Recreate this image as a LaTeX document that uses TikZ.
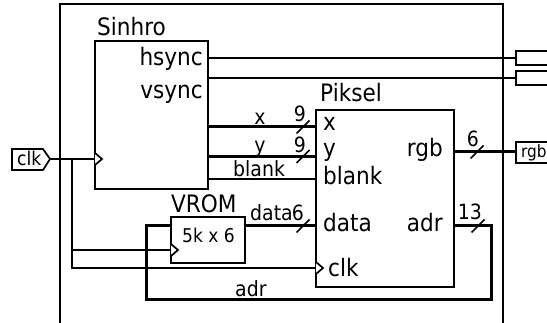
\documentclass[tikz,border=0pt]{standalone}
\usepackage{fontspec}
\setmainfont[FakeStretch=0.9]{DejaVu Sans}
\usepackage{tikz}
\tikzset{
  block/.style={draw,line width=1.7pt,minimum width=0pt,inner sep=0pt,outer sep=0pt},
  thinwire/.style={line width=1.7pt},
  buswire/.style={line width=3pt},
  big/.style={inner sep=0pt,font=\fontsize{24}{24}\selectfont},
  mid/.style={inner sep=0pt,font=\fontsize{21}{22}\selectfont},
  small/.style={inner sep=0pt,font=\fontsize{19}{20}\selectfont},
}
\begin{document}
\begin{tikzpicture}[x=1pt,y=-1pt]
  % Configurable parameters
  \def\slashx{6.5}
  \def\slashy{6.5}
  %
  \useasboundingbox (0,0) rectangle (547,323);
  %
  % Frame
  \draw[thinwire] (60,323) -- (60,4) -- (503,4) -- (503,323);
  %
  % Blocks
  \node[block,minimum width=113pt,minimum height=148pt] (sinhro) at (151.5,115) {};
  \node[block,minimum width=138pt,minimum height=177pt] (piksel) at (385,198.5) {};
  \node[block,minimum width=74pt,minimum height=46pt] (vrom) at (208,240) {};
  %
  % Pins
  \coordinate (hsync) at (208,58);
  \coordinate (vsync) at (208,78);
  \coordinate (xout) at (208,127);
  \coordinate (yout) at (208,156.5);
  \coordinate (blankout) at (208,179);
  \coordinate (xin) at (316,127);
  \coordinate (yin) at (316,156.5);
  \coordinate (blankin) at (316,179);
  \coordinate (datain) at (316,226);
  \coordinate (dataout) at (245,226);
  \coordinate (clkin) at (316,268);
  \coordinate (romclk) at (171,250);
  \coordinate (romadr) at (171,226);
  \coordinate (rgbout) at (454,152);
  \coordinate (adrout) at (454,226);
  \coordinate (syncclk) at (95,159);
  \coordinate (clkport) at (50,159);
  \coordinate (clkbranch) at (72,159);
  \coordinate (hport) at (516,58);
  \coordinate (vport) at (516,78);
  \coordinate (rgbport) at (516,152);
  %
  % Ports
  \draw[thinwire] (547,51) -- (516,51) -- (516,65) -- (547,65);
  \draw[thinwire] (547,71) -- (516,71) -- (516,85) -- (547,85);
  \draw[thinwire] (547,142) -- (516,142) -- (516,163) -- (547,163);
  \draw[thinwire] (12,149) -- (43,149) -- (50,159) -- (43,170) -- (12,170) -- cycle;
  %
  % Thin wires
  \draw[thinwire] (hsync) -- (hport);
  \draw[thinwire] (vsync) -- (vport);
  \draw[thinwire] (blankout) -- (blankin);
  \draw[thinwire] (clkport) -- (syncclk);
  \draw[thinwire] (clkbranch) |- (romclk);
  \draw[thinwire] (clkbranch) |- (clkin);
  %
  % Buses
  \draw[buswire] (xout) -- (xin);
  \draw[buswire] (yout) -- (yin);
  \draw[buswire] (dataout) -- (datain);
  \draw[buswire] (rgbout) -- (rgbport);
  \draw[buswire] (adrout) -- (491,226) -- (491,300) -- (146,300) -- (146,226) -- (romadr);
  %
  % Bus slashes
  \foreach \px/\py in {303/127,303/156.5,477/152,303/226,478/226}
    \draw[thinwire] (\px-\slashx,\py+\slashy) -- (\px+\slashx,\py-\slashy);
  %
  % Clock marks
  \foreach \c in {syncclk,romclk,clkin}
    \draw[thinwire,fill=white] (\c) ++(0,-6) -- ++(7,6) -- ++(-7,6);
  %
  % Labels
  \node[big,anchor=base west] (sinhrolabel) at (97,36) {Sinhro};
  \node[big,anchor=base east] (hsynclabel) at (203,66) {hsync};
  \node[big,anchor=base east] (vsynclabel) at (203,99) {vsync};
  \node[big,anchor=base west] (pikselabel) at (320,102) {Piksel};
  \node[big,anchor=base west] (xlabel) at (323,131) {x};
  \node[big,anchor=base west] (ylabel) at (323,157) {y};
  \node[big,anchor=base west] (blanklabel) at (323,185) {blank};
  \node[big,anchor=base west] (datalabel) at (323,232) {data};
  \node[big,anchor=base west] (clklabel) at (328,277) {clk};
  \node[big,anchor=base east] (rgblabel) at (443,157) {rgb};
  \node[big,anchor=base east] (adrlabel) at (443,232) {adr};
  \node[big,anchor=base west] (vromlabel) at (171,213) {VROM};
  \node[small,anchor=base] (sizelabel) at (208.5,243) {5k x 6};
  \node[mid,anchor=base] (xwire) at (260,125) {x};
  \node[mid,anchor=base] (ywire) at (260,153) {y};
  \node[mid,anchor=base west] (blankwire) at (233,177) {blank};
  \node[mid,anchor=base west] (datawire) at (250,221) {data};
  \node[mid,anchor=base west] (adrwire) at (235,297) {adr};
  \node[mid,anchor=base] (xwidth) at (300,122) {9};
  \node[mid,anchor=base] (ywidth) at (300,153) {9};
  \node[mid,anchor=base] (datawidth) at (298,221) {6};
  \node[mid,anchor=base] (rgbwidth) at (473,147) {6};
  \node[mid,anchor=base] (adrwidth) at (470,220) {13};
  \node[small,anchor=base west] (clkport label) at (17,166) {clk};
  \node[small,anchor=base west,font=\fontsize{17}{18}\selectfont] (rgbport label) at (521,158) {rgb};
  %
\end{tikzpicture}
\end{document}
